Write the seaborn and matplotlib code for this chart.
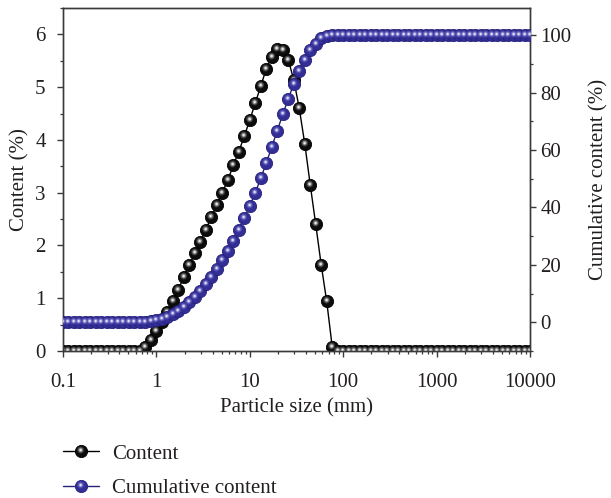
import numpy as np
import pandas as pd
import seaborn as sns
import matplotlib
matplotlib.use("Agg")
import matplotlib.pyplot as plt
from matplotlib.path import Path
from matplotlib.lines import Line2D
from matplotlib.legend_handler import HandlerTuple
from matplotlib.ticker import FuncFormatter, MultipleLocator, NullFormatter, LogLocator

# ---------------- data ----------------
particle_size = [
    0.1000, 0.1145, 0.1311, 0.1501, 0.1719, 0.1968, 0.2254, 0.2581, 0.2955, 0.3384,
    0.3875, 0.4437, 0.5080, 0.5817, 0.6661, 0.7627, 0.8733,
    1.000, 1.145, 1.311, 1.501, 1.719, 1.968, 2.254, 2.581, 2.955, 3.384,
    3.875, 4.437, 5.080, 5.817, 6.661, 7.627, 8.733,
    10.00, 11.45, 13.11, 15.01, 17.19, 19.68, 22.54, 25.81, 29.55, 33.84,
    38.75, 44.37, 50.80, 58.17, 66.61, 76.27, 87.33,
    100.0, 114.5, 131.1, 150.1, 171.9, 196.8, 225.4, 258.1, 295.5, 338.4,
    387.5, 443.7, 508.0, 581.7, 666.1, 762.7, 873.3,
    1000, 1145, 1311, 1501, 1719, 1968, 2254, 2581, 2955, 3384,
    3875, 4437, 5080, 5817, 6661, 7627, 8733,
    10000,
]

content = [
    0, 0, 0, 0, 0, 0, 0, 0, 0, 0, 0, 0, 0, 0, 0,
    0.08, 0.21, 0.37, 0.55, 0.73, 0.94, 1.16, 1.41, 1.63, 1.85,
    2.07, 2.30, 2.54, 2.77, 3.00, 3.24, 3.52, 3.78, 4.07, 4.38,
    4.70, 5.02, 5.35, 5.58, 5.73, 5.71, 5.52, 5.14, 4.60, 3.93,
    3.15, 2.40, 1.63, 0.94, 0.08,
    0, 0, 0, 0, 0, 0, 0, 0, 0, 0, 0, 0, 0, 0, 0, 0, 0, 0,
    0, 0, 0, 0, 0, 0, 0, 0, 0, 0, 0, 0, 0, 0, 0, 0, 0, 0,
]

cumulative = [
    0, 0, 0, 0, 0, 0, 0, 0, 0, 0, 0, 0, 0, 0, 0,
    0.1, 0.3, 0.7, 1.2, 1.9, 2.9, 4.0, 5.4, 7.1, 8.9,
    11.0, 13.3, 15.8, 18.6, 21.6, 24.8, 28.4, 32.1, 36.2, 40.5,
    45.2, 50.2, 55.5, 61.1, 66.8, 72.4, 77.9, 83.0, 87.6, 91.5,
    94.7, 97.1, 98.9, 99.8,
    100, 100, 100, 100, 100, 100, 100, 100, 100, 100, 100, 100, 100,
    100, 100, 100, 100, 100, 100, 100, 100, 100, 100, 100, 100, 100,
    100, 100, 100, 100, 100, 100, 100, 100, 100, 100, 100,
]

x_ticks = [0.1, 1, 10, 100, 1000, 10000]
series_labels = ["Content", "Cumulative content"]

df = pd.DataFrame({"size": particle_size, "content": content, "cumulative": cumulative})

# ---------------- style ----------------
sns.set_style("ticks")
plt.rcParams["font.family"] = ["Liberation Serif", "DejaVu Serif"]
plt.rcParams["text.color"] = "#231f20"
plt.rcParams["axes.labelcolor"] = "#231f20"
plt.rcParams["xtick.color"] = "#3a3a3a"
plt.rcParams["ytick.color"] = "#3a3a3a"
plt.rcParams["xtick.labelcolor"] = "#231f20"
plt.rcParams["ytick.labelcolor"] = "#231f20"

FS = 15
MS = 8.8

fig = plt.figure(figsize=(6.11, 4.98), dpi=100)
fig.subplots_adjust(left=63 / 611, right=530 / 611, bottom=1 - 351 / 498, top=1 - 8 / 498)
ax = fig.add_subplot(111)
ax.set_xscale("log")
ax2 = ax.twinx()

black_base = dict(face="#0c0c0c", edge="#000000",
                  layers=[("#3c3c3c", 0.56), ("#7a7a7a", 0.38), ("#bdbdbd", 0.25), ("#f7f7f7", 0.13)])
blue_base = dict(face="#332e95", edge="#25207a",
                 layers=[("#4a46ab", 0.56), ("#7471c3", 0.38), ("#b0aee0", 0.25), ("#f3f3fb", 0.13)])

HL_CX, HL_CY = -0.14, 0.24


def highlight_marker(r):
    path = Path.circle(center=(HL_CX, HL_CY), radius=r)
    m = max(abs(HL_CX), abs(HL_CY)) + r
    return path, MS * m


def draw_series(axis, y, style, zorder):
    sns.lineplot(data=df, x="size", y=y, ax=axis, color=style["edge"], linewidth=1.0,
                 marker="o", markersize=MS, markerfacecolor=style["face"],
                 markeredgecolor=style["edge"], markeredgewidth=0.6, legend=False,
                 zorder=zorder, estimator=None, sort=False)
    for i, (col, r) in enumerate(style["layers"]):
        path, ms = highlight_marker(r)
        axis.plot(df["size"], df[y], linestyle="none", marker=path, markersize=ms,
                  markerfacecolor=col, markeredgewidth=0, zorder=zorder + 0.1 * (i + 1))


draw_series(ax, "content", black_base, 3)
draw_series(ax2, "cumulative", blue_base, 3)

# ---------------- axes ----------------
ax.set_xlim(0.1, 10000)
ax.set_ylim(0, 6.5)
ax2.set_ylim(-10, 109.5)

ax.set_xticks(x_ticks)
ax.xaxis.set_major_formatter(FuncFormatter(lambda v, p: f"{v:g}"))
ax.xaxis.set_minor_locator(LogLocator(base=10, subs=np.arange(2, 10)))
ax.xaxis.set_minor_formatter(NullFormatter())
ax.yaxis.set_major_locator(MultipleLocator(1))
ax.yaxis.set_minor_locator(MultipleLocator(0.5))
ax2.yaxis.set_major_locator(MultipleLocator(20))
ax2.yaxis.set_minor_locator(MultipleLocator(10))
ax2.set_yticks([0, 20, 40, 60, 80, 100])

for a in (ax, ax2):
    a.tick_params(which="major", direction="out", length=4.5, width=1.0, labelsize=FS)
    a.tick_params(which="minor", direction="out", length=2.5, width=0.9)
    for s in a.spines.values():
        s.set_visible(True)
        s.set_color("#3a3a3a")
        s.set_linewidth(1.0)
ax.tick_params(axis="y", which="both", right=False, left=True)
ax.tick_params(axis="y", which="major", pad=8)
ax.tick_params(axis="x", which="both", top=False)
ax.tick_params(axis="x", which="major", pad=11)
ax2.tick_params(axis="y", which="both", right=True, left=False)
ax2.tick_params(axis="y", which="major", pad=3)

ax.set_xlabel("Particle size (mm)", fontsize=FS, labelpad=5)
ax.set_ylabel("Content (%)", fontsize=FS, labelpad=4)
ax2.set_ylabel("Cumulative content (%)", fontsize=FS, labelpad=13)

# ---------------- legend ----------------
def proxy(style):
    base = Line2D([], [], color=style["edge"], linewidth=1.0, marker="o", markersize=MS,
                  markerfacecolor=style["face"], markeredgecolor=style["edge"], markeredgewidth=0.6)
    parts = [base]
    for col, r in style["layers"]:
        path, ms = highlight_marker(r)
        parts.append(Line2D([], [], linestyle="none", marker=path, markersize=ms,
                            markerfacecolor=col, markeredgewidth=0))
    return tuple(parts)


fig.legend([proxy(black_base), proxy(blue_base)], series_labels,
           handler_map={tuple: HandlerTuple(ndivide=1, pad=0)},
           loc="upper left", bbox_to_anchor=(63 / 611, 1 - 444 / 498),
           frameon=False, fontsize=FS, handlelength=1.75, handletextpad=0.6,
           labelspacing=0.72, borderpad=0, borderaxespad=0, numpoints=1)

fig.savefig("out.png", dpi=100)
